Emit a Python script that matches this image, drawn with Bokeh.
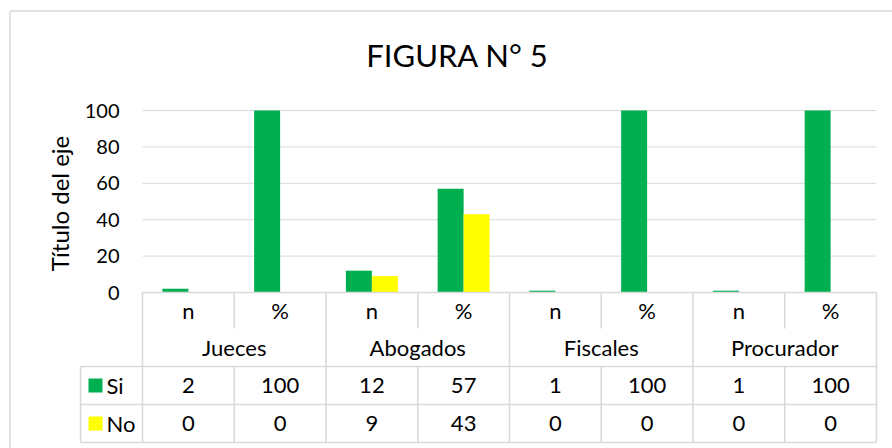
import math
from bokeh.plotting import figure
from bokeh.models import ColumnDataSource, LinearAxis, FixedTicker, Range1d
from bokeh.transform import dodge
from bokeh.core.properties import value
from bokeh.embed import file_html
from bokeh.resources import INLINE

# ---------------- data ----------------
title_text = "FIGURA N° 5"
axis_title = "Título del eje"
groups = ["Jueces", "Abogados", "Fiscales", "Procurador"]
subcats = ["n", "%"]
series = ["Si", "No"]
si = [2, 100, 12, 57, 1, 100, 1, 100]
no = [0, 0, 9, 43, 0, 0, 0, 0]
y_ticks = [0, 20, 40, 60, 80, 100]

# ---------------- style / layout ----------------
GREEN = "#00B050"
YELLOW = "#FFFF00"
LINE = "#D9D9D9"
TXT = "#000000"
FONT = "Lato"

W, H = 892, 448
frame_left, frame_top = 6, 6         # canvas px
border_px = 10                       # chart border position (px)
plot_left = 142                      # canvas px of plot area left
col_px = 91.75                       # px per table column
zero_px = 292                        # canvas px of value 0
unit_px = 1.82                       # px per value unit
row_px = [0, 36, 74, 112, 150]       # table row boundaries below 0 (px)
legend_left_px = 80                  # canvas px of legend column left
bar_px = 26

def ux(px):
    return (px - plot_left) / col_px

def vy(px):
    return (zero_px - px) / unit_px

def uy(off_px):
    return -off_px / unit_px

ncols = len(groups) * len(subcats)
x_start, x_end = ux(frame_left), ux(W)
y_end = vy(frame_top)
y_start = vy(H)
rows = [uy(r) for r in row_px]
leg_left = ux(legend_left_px)
bw = bar_px / col_px

p = figure(width=W, height=H, output_backend="svg", toolbar_location=None,
           x_range=Range1d(x_start, x_end), y_range=Range1d(y_start, y_end),
           x_axis_location=None, y_axis_location=None,
           min_border_left=frame_left, min_border_top=frame_top,
           min_border_right=0, min_border_bottom=0)
p.outline_line_color = None
p.background_fill_color = "white"
p.border_fill_color = "white"
p.xgrid.visible = False
p.ygrid.visible = False

yaxis = LinearAxis(ticker=FixedTicker(ticks=y_ticks),
                   axis_line_color=None, major_tick_line_color=None,
                   minor_tick_line_color=None, major_tick_out=0, major_tick_in=0,
                   major_label_text_font=FONT, major_label_text_font_size="20px",
                   major_label_text_color=TXT,
                   major_label_standoff=-(119 - frame_left))
p.add_layout(yaxis, "left")

# chart border (top and left only, as visible in the reference)
bx, by = ux(border_px - 0.5), vy(border_px + 0.5)
p.segment(x0=[bx, bx], x1=[x_end, bx], y0=[by, by], y1=[by, y_start],
          line_color=LINE, line_width=1.5)

# gridlines
gt = y_ticks[1:]
p.segment(x0=[0] * len(gt), x1=[ncols] * len(gt), y0=gt, y1=gt,
          line_color=LINE, line_width=1)

# bars
centers = [i + 0.5 for i in range(ncols)]
src = ColumnDataSource(dict(x=centers, si=si, no=no))
p.vbar(x=dodge("x", -bw / 2, range=p.x_range), top="si", width=bw, bottom=0,
       source=src, fill_color=GREEN, line_color=None)
p.vbar(x=dodge("x", bw / 2, range=p.x_range), top="no", width=bw, bottom=0,
       source=src, fill_color=YELLOW, line_color=None)

# table lines
hx0, hx1, hy = [0], [ncols], [0]
for r in rows[2:]:
    hx0.append(leg_left); hx1.append(ncols); hy.append(r)
p.segment(x0=hx0, x1=hx1, y0=hy, y1=hy, line_color=LINE, line_width=1.6)
vx, vy0, vy1 = [], [], []
for i in range(ncols + 1):
    if i % 2 == 0:
        vx.append(i); vy0.append(0); vy1.append(rows[4])
    else:
        vx += [i, i]; vy0 += [0, rows[2]]; vy1 += [rows[1], rows[4]]
vx.append(leg_left); vy0.append(rows[2]); vy1.append(rows[4])
p.segment(x0=vx, x1=vx, y0=vy0, y1=vy1, line_color=LINE, line_width=1.6)

def mid(a, b):
    return (a + b) / 2

tf = value(FONT)
# sub-category row
p.text(x=centers, y=[mid(rows[0], rows[1])] * ncols,
       text=[subcats[i % 2] for i in range(ncols)],
       text_align="center", text_baseline="middle", text_font=tf,
       text_font_size="22px", text_color=TXT)
# group row
p.text(x=[2 * g + 1 for g in range(len(groups))],
       y=[mid(rows[1], rows[2])] * len(groups), text=groups,
       text_align="center", text_baseline="middle", text_font=tf,
       text_font_size="22px", text_color=TXT)
# value rows
for k, (vals, col) in enumerate([(si, GREEN), (no, YELLOW)]):
    yc = mid(rows[2 + k], rows[3 + k])
    p.text(x=centers, y=[yc] * ncols, text=[str(v) for v in vals],
           text_align="center", text_baseline="middle", text_font=tf,
           text_font_size="22px", text_color=TXT)
    p.scatter(x=[ux(95)], y=[yc], marker="square", size=14,
              fill_color=col, line_color=None)
    p.text(x=[ux(106)], y=[yc], text=[series[k]], text_align="left",
           text_baseline="middle", text_font=tf, text_font_size="22px",
           text_color=TXT)

# title & axis title
p.text(x=[ux(457)], y=[vy(54)], text=[title_text],
       text_align="center", text_baseline="middle", text_font=tf,
       text_font_size="31px", text_color=TXT)
p.text(x=[ux(59)], y=[vy(203)], text=[axis_title],
       angle=math.pi / 2, text_align="center", text_baseline="middle",
       text_font=tf, text_font_size="24px", text_color=TXT)

open("out.html", "w").write(file_html(p, INLINE))
